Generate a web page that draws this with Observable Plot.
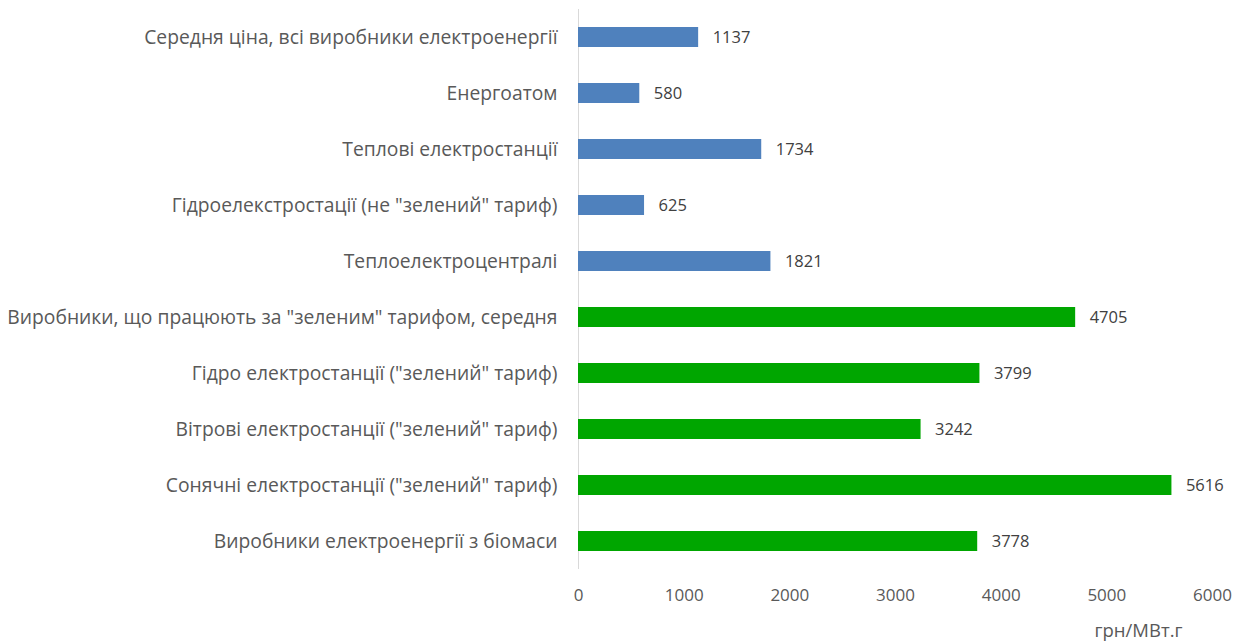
<!DOCTYPE html>
<html>
<head>
<meta charset="utf-8">
<script src="https://cdn.jsdelivr.net/npm/d3@7"></script>
<script src="https://cdn.jsdelivr.net/npm/@observablehq/plot@0.6"></script>
<style>
  html, body { margin: 0; padding: 0; background: #fff; }
  #chart { width: 1241px; height: 641px; }
</style>
</head>
<body>
<div id="chart"></div>
<script>
const categories = [
  "Середня ціна, всі виробники електроенергії",
  "Енергоатом",
  "Теплові електростанції",
  "Гідроелекстростації (не \"зелений\" тариф)",
  "Теплоелектроцентралі",
  "Виробники, що працюють за \"зеленим\" тарифом, середня",
  "Гідро електростанції (\"зелений\" тариф)",
  "Вітрові електростанції (\"зелений\" тариф)",
  "Сонячні електростанції (\"зелений\" тариф)",
  "Виробники електроенергії з біомаси"
];
const values = [1137, 580, 1734, 625, 1821, 4705, 3799, 3242, 5616, 3778];
const groups = ["traditional","traditional","traditional","traditional","traditional","green","green","green","green","green"];
const xTicks = [0, 1000, 2000, 3000, 4000, 5000, 6000];
const unitLabel = "грн/МВт.г";

const data = categories.map((c, i) => ({category: c, value: values[i], group: groups[i]}));
const font = "'Open Sans', 'Liberation Sans', sans-serif";

const chart = Plot.plot({
  width: 1241,
  height: 641,
  marginLeft: 578,
  marginRight: 29,
  marginTop: 9,
  marginBottom: 72,
  style: {fontFamily: font, color: "#595959", background: "#fff"},
  x: {domain: [0, 6000], ticks: xTicks, label: null},
  y: {domain: categories, paddingInner: 0.64, paddingOuter: 0.32, label: null},
  color: {domain: ["traditional", "green"], range: ["#4f81bd", "#00a600"]},
  marks: [
    Plot.ruleX([0], {stroke: "#d9d9d9", strokeWidth: 1}),
    Plot.barX(data, {y: "category", x: "value", fill: "group"}),
    Plot.text(data, {y: "category", x: "value", text: d => String(d.value), textAnchor: "start", dx: 14, fill: "#404040", fontSize: 16.5}),
    Plot.axisY({tickSize: 0, tickPadding: 21, fontSize: 19.3, fill: "#595959"}),
    Plot.axisX({ticks: xTicks, tickSize: 0, tickPadding: 19, fontSize: 17, fill: "#595959", tickFormat: d => String(d)}),
    Plot.text([unitLabel], {frameAnchor: "bottom-right", dy: 67, dx: -30, fontSize: 18.5, fill: "#595959", textAnchor: "end"})
  ]
});
document.getElementById("chart").appendChild(chart);
</script>
</body>
</html>
